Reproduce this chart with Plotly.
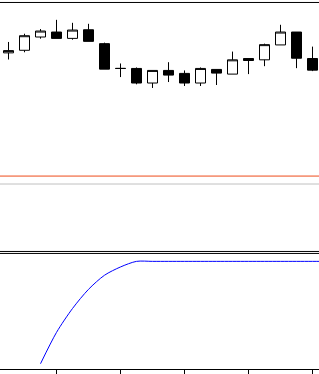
import plotly.graph_objects as go

# ---- data ----
bar_index = list(range(1, 21))
opens  = [146.7, 149.3, 162.7, 167.7, 161.3, 170.0, 156.0, 131.0, 131.0, 116.3,
          129.0, 126.0, 116.3, 130.0, 125.3, 141.0, 139.7, 154.7, 167.7, 141.0]
highs  = [157.7, 166.0, 170.7, 180.0, 177.0, 176.0, 157.0, 136.0, 132.0, 129.0,
          137.3, 129.0, 132.0, 130.0, 148.0, 141.0, 156.0, 175.0, 167.7, 153.0]
lows   = [140.0, 147.3, 161.0, 161.3, 160.0, 158.3, 130.3, 122.3, 115.0, 111.3,
          117.3, 113.3, 113.3, 114.3, 125.3, 125.3, 133.3, 154.7, 131.3, 128.3]
closes = [149.0, 164.0, 168.7, 161.3, 169.7, 158.3, 130.3, 131.0, 116.3, 129.0,
          124.3, 116.3, 131.0, 126.3, 139.7, 139.0, 155.0, 167.7, 141.3, 129.3]

# middle panel reference levels
level_x = [0, 22]
level_upper = [90, 90]
level_lower = [80, 80]

# bottom panel oscillator
osc_x = [3, 4, 5, 6, 7, 8, 9, 10, 11, 12, 13, 14, 15, 16, 17, 18, 19, 20, 21, 22]
osc_y = [4.9, 34.0, 56.2, 74.0, 87.1, 94.8, 100, 100, 100, 100, 100, 100, 100,
         100, 100, 100, 100, 100, 100, 100]

tick_positions = [4, 8, 12, 16, 20]

H = 372.0  # plot area height in px


def f(px):
    return (H - px) / H


fig = go.Figure()

fig.add_trace(go.Candlestick(
    x=bar_index, open=opens, high=highs, low=lows, close=closes,
    increasing=dict(line=dict(color="black", width=1), fillcolor="white"),
    decreasing=dict(line=dict(color="black", width=1), fillcolor="black"),
    whiskerwidth=0, xaxis="x", yaxis="y", showlegend=False, hoverinfo="skip",
))

fig.add_trace(go.Scatter(x=level_x, y=level_upper, mode="lines",
                         line=dict(color="#ee4b1a", width=1),
                         xaxis="x", yaxis="y2", showlegend=False, hoverinfo="skip"))
fig.add_trace(go.Scatter(x=level_x, y=level_lower, mode="lines",
                         line=dict(color="#c0c0c0", width=1),
                         xaxis="x", yaxis="y2", showlegend=False, hoverinfo="skip"))

fig.add_trace(go.Scatter(x=osc_x, y=osc_y, mode="lines",
                         line=dict(color="#0000ff", width=1, shape="spline", smoothing=0.8),
                         xaxis="x", yaxis="y3", showlegend=False, hoverinfo="skip"))

axis_common = dict(showgrid=False, zeroline=False, showticklabels=False, ticks="",
                   showline=False, fixedrange=True)

x0 = 0.46875
fig.update_layout(
    width=319, height=374,
    margin=dict(l=0, r=0, t=0, b=2),
    paper_bgcolor="white", plot_bgcolor="white",
    showlegend=False,
    boxgap=0.375, boxgroupgap=0,
    xaxis=dict(range=[x0, x0 + 319 / 16], anchor="y3", showgrid=False, zeroline=False,
               showticklabels=False, showline=True, linecolor="black", linewidth=1,
               ticks="outside", ticklen=5, tickcolor="black", tickwidth=1,
               tickvals=tick_positions, rangeslider=dict(visible=False),
               fixedrange=True),
    yaxis=dict(domain=[f(160), f(2)], range=[40, 198], **axis_common),
    yaxis2=dict(domain=[f(249), f(169)], range=[0.625, 100.625], **axis_common),
    yaxis3=dict(domain=[0, f(256)], range=[0, 106.9], **axis_common),
    shapes=[
        dict(type="line", xref="paper", yref="paper", x0=0, x1=1,
             y0=f(2.5), y1=f(2.5), line=dict(color="black", width=1)),
        dict(type="line", xref="paper", yref="paper", x0=0, x1=1,
             y0=f(253.5), y1=f(253.5), line=dict(color="black", width=1)),
        dict(type="line", xref="paper", yref="paper", x0=0, x1=1,
             y0=f(255.5), y1=f(255.5), line=dict(color="black", width=1)),
    ],
)

fig.write_html("out.html", config=dict(displayModeBar=False))
